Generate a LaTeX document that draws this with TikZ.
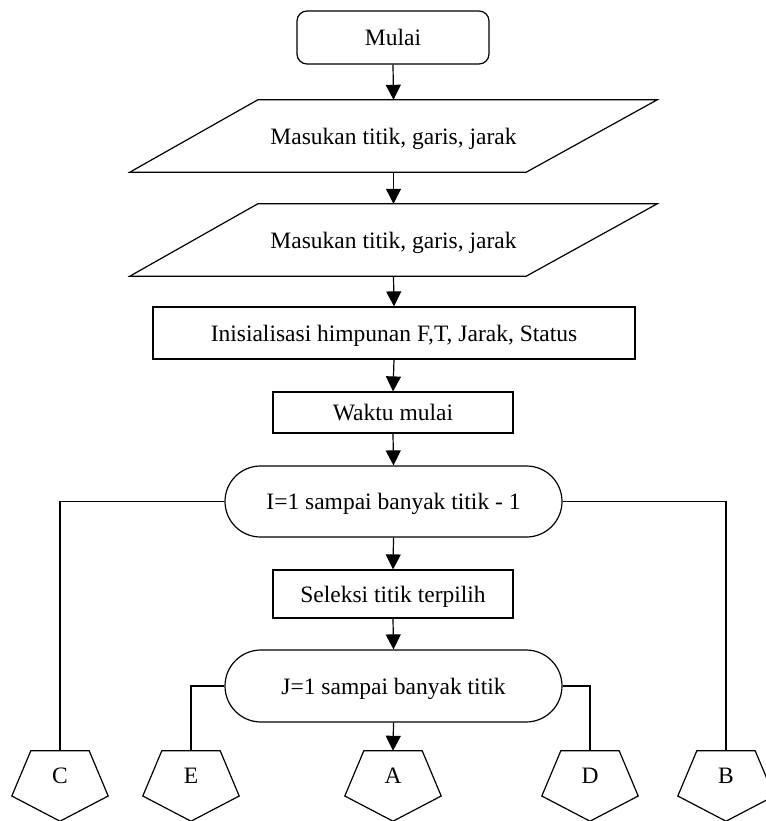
\documentclass[tikz,border=0pt]{standalone}
\usepackage{fontspec}
\setmainfont{Liberation Serif}
\usetikzlibrary{arrows.meta,shapes.misc,calc}
\begin{document}
\begin{tikzpicture}[x=1pt,y=-1pt,
  every node/.style={font=\fontsize{23.5}{27}\selectfont, inner sep=0pt, text depth=0pt},
  line/.style={line width=1.2pt},
  arr/.style={line, -{Triangle[length=15pt,width=15pt]}},
  startbox/.style={draw, line width=1.2pt, rounded corners=10pt},
  procbox/.style={draw, line width=1.2pt, rectangle},
  loopbox/.style={draw, line width=1.2pt, rounded rectangle, rounded rectangle arc length=180},
  parabox/.style={rectangle},
  pentabox/.style={rectangle, minimum width=96pt, minimum height=50pt}
]
\useasboundingbox (0,0) rectangle (765,821);

\node[startbox, minimum width=192pt, minimum height=53pt] (mulai) at (393,37.5) {Mulai};

\node[parabox, minimum width=527pt, minimum height=72pt] (p1) at (393.5,136) {Masukan titik, garis, jarak};
\node[parabox, minimum width=527pt, minimum height=72pt] (p2) at (393.5,240) {Masukan titik, garis, jarak};
\foreach \p in {p1,p2}
  \draw[line] (\p.south west) -- ([xshift=-131pt]\p.south east) -- (\p.north east) -- ([xshift=128pt]\p.north west) -- cycle;

\node[procbox, minimum width=482pt, minimum height=52pt] (init) at (394,333) {Inisialisasi himpunan F,T, Jarak, Status};
\node[procbox, minimum width=240pt, minimum height=41pt] (waktu) at (393,412.5) {Waktu mulai};
\node[loopbox, minimum width=337pt, minimum height=71pt] (iloop) at (393.5,501.5) {I=1 sampai banyak titik - 1};
\node[procbox, minimum width=240pt, minimum height=48pt] (seleksi) at (393,594) {Seleksi titik terpilih};
\node[loopbox, minimum width=337pt, minimum height=72pt] (jloop) at (393.5,686) {J=1 sampai banyak titik};

\node[pentabox] (C) at (60,776) {C};
\node[pentabox] (E) at (191,776) {E};
\node[pentabox] (A) at (393,776) {A};
\node[pentabox] (D) at (590,776) {D};
\node[pentabox] (B) at (726,776) {B};
\foreach \n in {C,E,A,D,B}
  \draw[line] ([xshift=19pt]\n.north west) -- ([xshift=-19pt]\n.north east) -- ([yshift=-20pt]\n.east) -- ([yshift=-20pt]\n.south) -- ([yshift=-20pt]\n.west) -- cycle;

\draw[arr] (mulai.south) -- (p1.north);
\draw[arr] (p1.south) -- (p2.north);
\draw[arr] (p2.south) -- (init.north);
\draw[arr] (init.south) -- (waktu.north);
\draw[arr] (waktu.south) -- (iloop.north);
\draw[arr] (iloop.south) -- (seleksi.north);
\draw[arr] (seleksi.south) -- (jloop.north);
\draw[arr] (jloop.south) -- (A.north);

\draw[line] (iloop.west) -| (C.north);
\draw[line] (iloop.east) -| (B.north);
\draw[line] (jloop.west) -| (E.north);
\draw[line] (jloop.east) -| (D.north);
\end{tikzpicture}
\end{document}
